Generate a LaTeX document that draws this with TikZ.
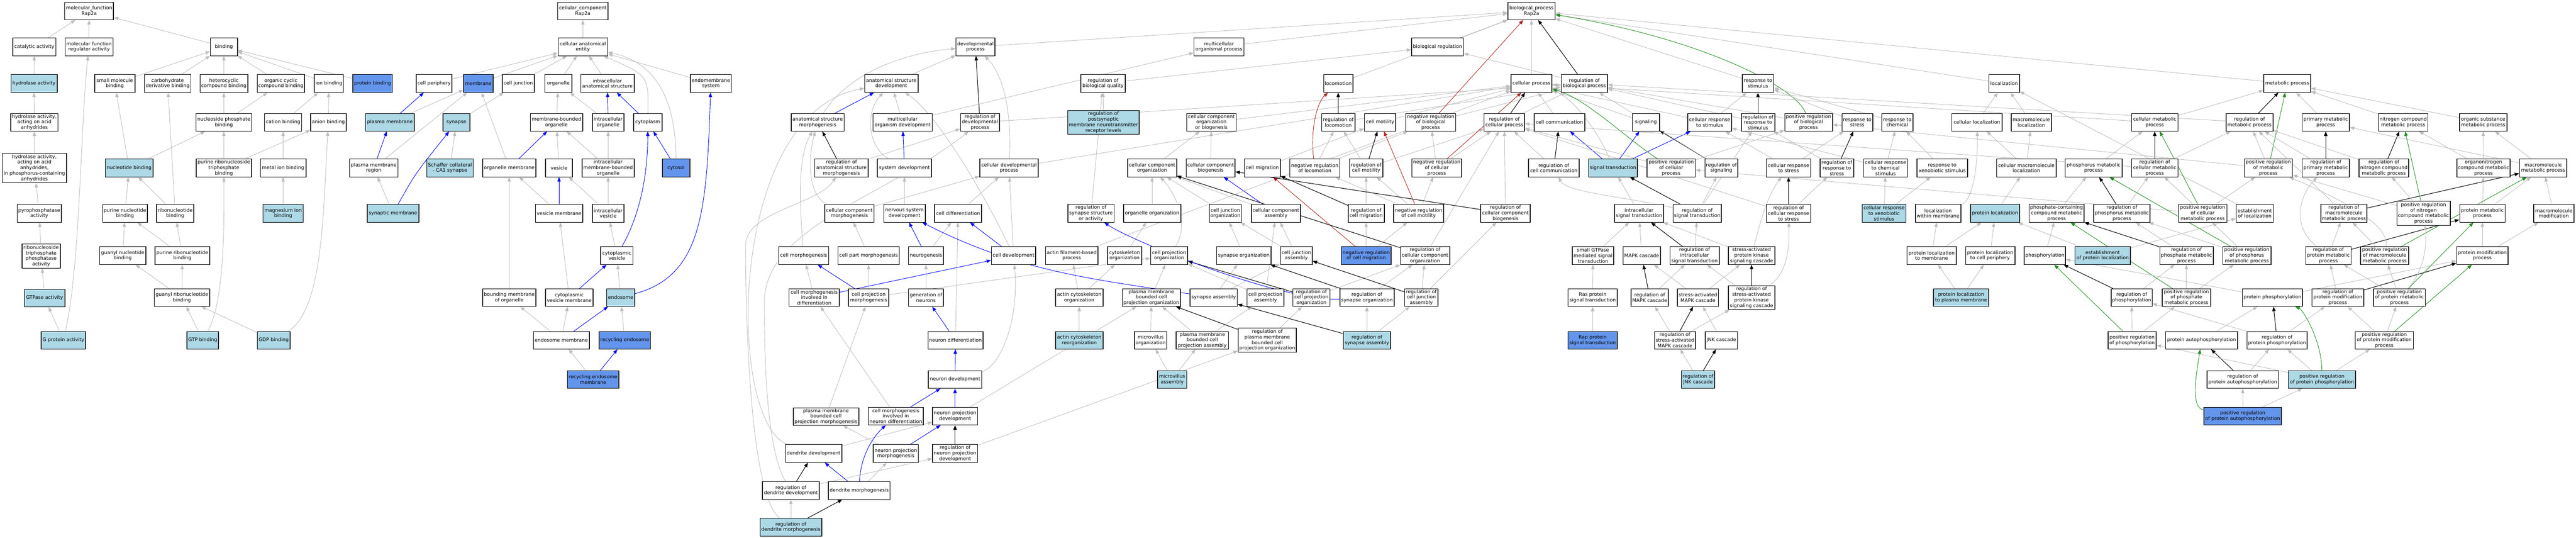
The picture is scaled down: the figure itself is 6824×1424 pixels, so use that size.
\documentclass[tikz,border=0pt]{standalone}
\usepackage{fontspec}
\setmainfont{DejaVu Sans}
\usetikzlibrary{arrows.meta,backgrounds}
\definecolor{lbcol}{HTML}{ADD8E6}
\definecolor{cfcol}{HTML}{6495ED}
\definecolor{egray}{HTML}{BEBEBE}
\definecolor{ered}{HTML}{B22222}
\definecolor{egreen}{HTML}{228B22}
\definecolor{sidecol}{HTML}{505050}
\newcommand\N[6]{\node[gonode,#5,minimum width=#4pt] (#1) at (#2,#3) {#6};}
\newcommand\E[3]{\draw[#1] (#2) -- (#3);}
\tikzset{
  gonode/.style={draw=black,line width=1pt,fill=white,rectangle,align=center,
    minimum height=47pt,inner xsep=3pt,inner ysep=1pt,
    font=\fontsize{12.8}{14.6}\selectfont,
    path picture={\draw[sidecol,line width=3pt]
      (path picture bounding box.north west) -- (path picture bounding box.south west)
      (path picture bounding box.north east) -- (path picture bounding box.south east);}},
  wt/.style={},
  lb/.style={fill=lbcol},
  cf/.style={fill=cfcol},
  hsixtyfour/.style={minimum height=64pt},
  hseventyeight/.style={minimum height=78pt},
  gr/.style={draw=egray,line width=1.2pt,-{Triangle[length=12pt,width=9pt]}},
  bl/.style={draw=blue,line width=1.2pt,-{Triangle[length=12pt,width=9pt]}},
  bk/.style={draw=black,line width=1.4pt,-{Triangle[length=12pt,width=9pt]}},
  rd/.style={draw=ered,line width=1.2pt,-{Triangle[length=12pt,width=9pt]}},
  gn/.style={draw=egreen,line width=1.2pt,-{Triangle[length=12pt,width=9pt]}},
}
\begin{document}
\begin{tikzpicture}[x=1pt,y=-1pt]
\useasboundingbox (0,0) rectangle (6824,1424);
% ---------------- molecular function
\N{mfr}{236}{29}{130}{wt}{molecular\_function\\Rap2a}
\N{cat}{91}{124}{115}{wt}{catalytic activity}
\N{mfreg}{236}{124}{128}{wt}{molecular function\\regulator activity}
\N{bind}{593}{124}{72}{wt}{binding}
\N{hyd}{90}{221}{123}{lb}{hydrolase activity}
\N{hydaa}{91}{324}{126}{wt}{hydrolase activity,\\acting on acid\\anhydrides}
\N{hydaap}{91}{445}{171}{hseventyeight}{hydrolase activity,\\acting on acid\\anhydrides,\\in phosphorus-containing\\anhydrides}
\N{pyro}{104}{565}{118}{wt}{pyrophosphatase\\activity}
\N{rntp}{109}{678}{102}{hsixtyfour}{ribonucleoside\\triphosphate\\phosphatase\\activity}
\N{gtpase}{118}{789}{108}{lb}{GTPase activity}
\N{gprot}{168}{901}{118}{lb}{G protein activity}
\N{smb}{304}{221}{107}{wt}{small molecule\\binding}
\N{cdb}{444}{221}{124}{wt}{carbohydrate\\derivative binding}
\N{hcb}{593}{221}{127}{wt}{heterocyclic\\compound binding}
\N{ocb}{744}{221}{126}{wt}{organic cyclic\\compound binding}
\N{ionb}{871}{221}{78}{wt}{ion binding}
\N{protb}{987}{221}{105}{cf}{protein binding}
\N{npb}{593}{324}{148}{wt}{nucleoside phosphate\\binding}
\N{catb}{750}{324}{99}{wt}{cation binding}
\N{anb}{870}{324}{95}{wt}{anion binding}
\N{nucb}{342}{445}{127}{lb}{nucleotide binding}
\N{prntpb}{593}{445}{147}{wt}{purine ribonucleoside\\triphosphate\\binding}
\N{metb}{750}{445}{121}{wt}{metal ion binding}
\N{pnb}{331}{565}{119}{wt}{purine nucleotide\\binding}
\N{rnb}{464}{565}{99}{wt}{ribonucleotide\\binding}
\N{mgb}{750}{565}{107}{lb}{magnesium ion\\binding}
\N{gnb}{325}{677}{123}{wt}{guanyl nucleotide\\binding}
\N{prnb}{483}{677}{145}{wt}{purine ribonucleotide\\binding}
\N{grnb}{482}{788}{147}{wt}{guanyl ribonucleotide\\binding}
\N{gtpb}{537}{901}{84}{lb}{GTP binding}
\N{gdpb}{725}{901}{87}{lb}{GDP binding}
% ---------------- cellular component
\N{ccr}{1544}{29}{134}{wt}{cellular\_component\\Rap2a}
\N{cae}{1544}{124}{132}{wt}{cellular anatomical\\entity}
\N{cper}{1150}{221}{95}{wt}{cell periphery}
\N{mem}{1267}{221}{78}{cf}{membrane}
\N{cjun}{1373}{221}{86}{wt}{cell junction}
\N{org}{1479}{221}{72}{wt}{organelle}
\N{ias}{1609}{221}{142}{wt}{intracellular\\anatomical structure}
\N{ems}{1883}{221}{109}{wt}{endomembrane\\system}
\N{pm}{1033}{324}{130}{lb}{plasma membrane}
\N{syn}{1209}{324}{72}{lb}{synapse}
\N{mbo}{1474}{324}{139}{wt}{membrane-bounded\\organelle}
\N{iorg}{1611}{324}{84}{wt}{intracellular\\organelle}
\N{cyto}{1716}{324}{76}{wt}{cytoplasm}
\N{pmr}{990}{445}{129}{wt}{plasma membrane\\region}
\N{schaf}{1192}{445}{124}{lb}{Schaffer collateral\\- CA1 synapse}
\N{orgm}{1349}{445}{142}{wt}{organelle membrane}
\N{ves}{1481}{445}{72}{wt}{vesicle}
\N{imbo}{1611}{445}{139}{wt}{intracellular\\membrane-bounded\\organelle}
\N{cytosol}{1791}{445}{73}{cf}{cytosol}
\N{synm}{1041}{565}{137}{lb}{synaptic membrane}
\N{vesm}{1481}{565}{126}{wt}{vesicle membrane}
\N{ives}{1611}{565}{84}{wt}{intracellular\\vesicle}
\N{cves}{1634}{677}{86}{wt}{cytoplasmic\\vesicle}
\N{bmo}{1349}{788}{142}{wt}{bounding membrane\\of organelle}
\N{cvm}{1508}{788}{126}{wt}{cytoplasmic\\vesicle membrane}
\N{endo}{1644}{788}{75}{lb}{endosome}
\N{endom}{1487}{901}{149}{wt}{endosome membrane}
\N{recend}{1655}{901}{137}{cf}{recycling endosome}
\N{recendm}{1571}{1005}{137}{cf}{recycling endosome\\membrane}
% ---------------- biological process
\N{bpr}{4057}{29}{126}{wt}{biological\_process\\Rap2a}
\N{devp}{2584}{124}{104}{wt}{developmental\\process}
\N{mop}{3229}{124}{133}{wt}{multicellular\\organismal process}
\N{breg}{3808}{124}{138}{wt}{biological regulation}
\N{asd}{2361}{221}{142}{wt}{anatomical structure\\development}
\N{rbq}{2922}{221}{119}{wt}{regulation of\\biological quality}
\N{loco}{3545}{221}{78}{wt}{locomotion}
\N{cellp}{4057}{221}{109}{wt}{cellular process}
\N{rbp}{4197}{221}{123}{wt}{regulation of\\biological process}
\N{rstim}{4657}{221}{83}{wt}{response to\\stimulus}
\N{loc}{5309}{221}{82}{wt}{localization}
\N{metp}{6059}{221}{125}{wt}{metabolic process}
% row 4
\N{asm}{2166}{324}{141}{wt}{anatomical structure\\morphogenesis}
\N{mod}{2391}{324}{158}{wt}{multicellular\\organism development}
\N{rdp}{2596}{324}{104}{wt}{regulation of\\developmental\\process}
\N{rpmnrl}{2923}{324}{190}{lb,hsixtyfour}{regulation of\\postsynaptic\\membrane neurotransmitter\\receptor levels}
\N{ccob}{3209}{324}{132}{wt}{cellular component\\organization\\or biogenesis}
\N{rloco}{3545}{324}{89}{wt}{regulation of\\locomotion}
\N{cmot}{3656}{324}{84}{wt}{cell motility}
\N{nrbp}{3790}{324}{133}{wt}{negative regulation\\of biological\\process}
\N{rcp}{3985}{324}{108}{wt}{regulation of\\cellular process}
\N{ccom}{4131}{324}{134}{wt}{cell communication}
\N{sig}{4360}{324}{72}{wt}{signaling}
\N{crstim}{4529}{324}{117}{wt}{cellular response\\to stimulus}
\N{rrstim}{4657}{324}{89}{wt}{regulation of\\response to\\stimulus}
\N{prbp}{4791}{324}{127}{wt}{positive regulation\\of biological\\process}
\N{rstress}{4920}{324}{82}{wt}{response to\\stress}
\N{rchem}{5026}{324}{83}{wt}{response to\\chemical}
\N{cloc}{5237}{324}{134}{wt}{cellular localization}
\N{mloc}{5381}{324}{107}{wt}{macromolecule\\localization}
\N{cmp}{5708}{324}{124}{wt}{cellular metabolic\\process}
\N{rmp}{5959}{324}{125}{wt}{regulation of\\metabolic process}
\N{pmp}{6161}{324}{126}{wt}{primary metabolic\\process}
\N{ncmp}{6366}{324}{132}{wt}{nitrogen compound\\metabolic process}
\N{osmp}{6578}{324}{126}{wt}{organic substance\\metabolic process}
% row 5
\N{rasm}{2229}{445}{142}{wt}{regulation of\\anatomical structure\\morphogenesis}
\N{sysd}{2396}{445}{144}{wt}{system development}
\N{cdp}{2673}{445}{155}{wt}{cellular developmental\\process}
\N{cco}{3052}{445}{130}{wt}{cellular component\\organization}
\N{ccb}{3207}{445}{130}{wt}{cellular component\\biogenesis}
\N{cmig}{3344}{445}{96}{wt}{cell migration}
\N{nrloco}{3483}{445}{133}{wt}{negative regulation\\of locomotion}
\N{rcmot}{3619}{445}{89}{wt}{regulation of\\cell motility}
\N{nrcp}{3806}{445}{133}{wt}{negative regulation\\of cellular\\process}
\N{rcc}{4116}{445}{134}{wt}{regulation of\\cell communication}
\N{st}{4273}{445}{130}{lb}{signal transduction}
\N{prcp}{4427}{445}{128}{wt}{positive regulation\\of cellular\\process}
\N{rsig}{4560}{445}{88}{wt}{regulation of\\signaling}
\N{crstress}{4738}{445}{118}{wt}{cellular response\\to stress}
\N{rrstress}{4866}{445}{89}{wt}{regulation of\\response to\\stress}
\N{crchem}{4995}{445}{117}{wt}{cellular response\\to chemical\\stimulus}
\N{rxs}{5145}{445}{134}{wt}{response to\\xenobiotic stimulus}
\N{cmloc}{5368}{445}{158}{wt}{cellular macromolecule\\localization}
\N{phmp}{5546}{445}{151}{wt}{phosphorus metabolic\\process}
\N{rcmp}{5708}{445}{124}{wt}{regulation of\\cellular metabolic\\process}
\N{prmp}{6009}{445}{128}{wt}{positive regulation\\of metabolic\\process}
\N{rpmp}{6161}{445}{126}{wt}{regulation of\\primary metabolic\\process}
\N{rncmp}{6315}{445}{132}{wt}{regulation of\\nitrogen compound\\metabolic process}
\N{oncmp}{6579}{445}{142}{wt}{organonitrogen\\compound metabolic\\process}
\N{mmp}{6737}{445}{126}{wt}{macromolecule\\metabolic process}
% row 6
\N{ccm}{2250}{565}{131}{wt}{cellular component\\morphogenesis}
\N{nsd}{2396}{565}{110}{wt}{nervous system\\development}
\N{cdiff}{2538}{565}{125}{wt}{cell differentiation}
\N{rssa}{2890}{565}{123}{wt}{regulation of\\synapse structure\\or activity}
\N{oorg}{3052}{565}{152}{wt}{organelle organization}
\N{cjo}{3246}{565}{84}{wt}{cell junction\\organization}
\N{cca}{3380}{565}{131}{wt}{cellular component\\assembly}
\N{rcmig}{3619}{565}{96}{wt}{regulation of\\cell migration}
\N{nrcmot}{3758}{565}{133}{wt}{negative regulation\\of cell motility}
\N{rccb}{3988}{565}{132}{wt}{regulation of\\cellular component\\biogenesis}
\N{ist}{4342}{565}{131}{wt}{intracellular\\signal transduction}
\N{rst}{4496}{565}{128}{wt}{regulation of\\signal transduction}
\N{rcrs}{4738}{565}{118}{wt}{regulation of\\cellular response\\to stress}
\N{crxs}{4991}{565}{117}{lb}{cellular response\\to xenobiotic\\stimulus}
\N{lwm}{5134}{565}{121}{wt}{localization\\within membrane}
\N{ploc}{5285}{565}{131}{lb}{protein localization}
\N{pccmp}{5448}{565}{146}{wt}{phosphate-containing\\compound metabolic\\process}
\N{rphmp}{5621}{565}{150}{wt}{regulation of\\phosphorus metabolic\\process}
\N{prcmp}{5835}{565}{129}{wt}{positive regulation\\of cellular\\metabolic process}
\N{eloc}{5973}{565}{99}{wt}{establishment\\of localization}
\N{rmmp}{6209}{565}{122}{wt}{regulation of\\macromolecule\\metabolic process}
\N{prncmp}{6420}{565}{142}{hsixtyfour}{positive regulation\\of nitrogen\\compound metabolic\\process}
\N{prmetp}{6576}{565}{121}{wt}{protein metabolic\\process}
\N{mmod}{6765}{565}{107}{wt}{macromolecule\\modification}
% row 7
\N{cmorph}{2129}{677}{133}{wt}{cell morphogenesis}
\N{cpm}{2301}{677}{163}{wt}{cell part morphogenesis}
\N{neurog}{2453}{677}{93}{wt}{neurogenesis}
\N{cdev}{2685}{677}{118}{wt}{cell development}
\N{afbp}{2839}{677}{140}{wt}{actin filament-based\\process}
\N{csko}{2979}{677}{91}{wt}{cytoskeleton\\organization}
\N{cpo}{3097}{677}{99}{wt}{cell projection\\organization}
\N{syno}{3295}{677}{145}{wt}{synapse organization}
\N{cja}{3434}{677}{85}{wt}{cell junction\\assembly}
\N{nrcmig}{3619}{677}{133}{cf}{negative regulation\\of cell migration}
\N{rcco}{3775}{677}{131}{wt}{regulation of\\cellular component\\organization}
\N{sgtp}{4220}{677}{110}{wt}{small GTPase\\mediated signal\\transduction}
\N{mapk}{4349}{677}{100}{wt}{MAPK cascade}
\N{rist}{4489}{677}{131}{wt}{regulation of\\intracellular\\signal transduction}
\N{sapk}{4640}{677}{123}{wt}{stress-activated\\protein kinase\\signaling cascade}
\N{plm}{5117}{677}{131}{wt}{protein localization\\to membrane}
\N{plcp}{5272}{677}{131}{wt}{protein localization\\to cell periphery}
\N{phos}{5417}{677}{110}{wt}{phosphorylation}
\N{eploc}{5570}{677}{148}{lb}{establishment\\of protein localization}
\N{rphamp}{5792}{677}{142}{wt}{regulation of\\phosphate metabolic\\process}
\N{prphmp}{5952}{677}{128}{wt}{positive regulation\\of phosphorus\\metabolic process}
\N{rprmp}{6168}{677}{121}{wt}{regulation of\\protein metabolic\\process}
\N{prmmp}{6317}{677}{128}{wt}{positive regulation\\of macromolecule\\metabolic process}
\N{pmodp}{6576}{677}{137}{wt}{protein modification\\process}
% row 8
\N{cmid}{2157}{788}{134}{wt}{cell morphogenesis\\involved in\\differentiation}
\N{cprojm}{2301}{788}{107}{wt}{cell projection\\morphogenesis}
\N{gen}{2453}{788}{93}{wt}{generation of\\neurons}
\N{aco}{2859}{788}{126}{wt}{actin cytoskeleton\\organization}
\N{pmbcpo}{3050}{788}{155}{wt}{plasma membrane\\bounded cell\\projection organization}
\N{syna}{3215}{788}{126}{wt}{synapse assembly}
\N{cpa}{3352}{788}{98}{wt}{cell projection\\assembly}
\N{rcpo}{3474}{788}{99}{wt}{regulation of\\cell projection\\organization}
\N{rso}{3621}{788}{144}{wt}{regulation of\\synapse organization}
\N{rcja}{3765}{788}{89}{wt}{regulation of\\cell junction\\assembly}
\N{ras}{4219}{788}{131}{wt}{Ras protein\\signal transduction}
\N{rmapk}{4370}{788}{99}{wt}{regulation of\\MAPK cascade}
\N{samapk}{4498}{788}{109}{wt}{stress-activated\\MAPK cascade}
\N{rsapk}{4640}{788}{123}{hsixtyfour}{regulation of\\stress-activated\\protein kinase\\signaling cascade}
\N{plpm}{5195}{788}{147}{lb}{protein localization\\to plasma membrane}
\N{rphos}{5647}{788}{107}{wt}{regulation of\\phosphorylation}
\N{prphamp}{5792}{788}{129}{wt}{positive regulation\\of phosphate\\metabolic process}
\N{pphos}{6020}{788}{160}{wt}{protein phosphorylation}
\N{rpmodp}{6193}{788}{138}{wt}{regulation of\\protein modification\\process}
\N{prprmp}{6356}{788}{138}{wt}{positive regulation\\of protein metabolic\\process}
% row 9
\N{nd}{2531}{901}{146}{wt}{neuron differentiation}
\N{acr}{2859}{901}{126}{lb}{actin cytoskeleton\\reorganization}
\N{mvo}{3048}{901}{86}{wt}{microvillus\\organization}
\N{pmbcpa}{3185}{901}{139}{wt}{plasma membrane\\bounded cell\\projection assembly}
\N{rpmbcpo}{3357}{901}{155}{hsixtyfour}{regulation of\\plasma membrane\\bounded cell\\projection organization}
\N{rsa}{3621}{901}{126}{lb}{regulation of\\synapse assembly}
\N{rap}{4219}{901}{131}{cf}{Rap protein\\signal transduction}
\N{rsamapk}{4437}{901}{109}{wt}{regulation of\\stress-activated\\MAPK cascade}
\N{jnk}{4560}{901}{86}{wt}{JNK cascade}
\N{prphos}{5648}{901}{128}{wt}{positive regulation\\of phosphorylation}
\N{pap}{5832}{901}{191}{wt}{protein autophosphorylation}
\N{rpphos}{6032}{901}{160}{wt}{regulation of\\protein phosphorylation}
\N{prpmodp}{6316}{901}{155}{wt}{positive regulation\\of protein modification\\process}
% row 10
\N{ndev}{2530}{1005}{142}{wt}{neuron development}
\N{mva}{3105}{1005}{78}{lb}{microvillus\\assembly}
\N{rjnk}{4498}{1005}{89}{lb}{regulation of\\JNK cascade}
\N{rpap}{5941}{1005}{190}{wt}{regulation of\\protein autophosphorylation}
\N{prpphos}{6151}{1005}{179}{lb}{positive regulation\\of protein phosphorylation}
% row 11
\N{pmbcpm}{2188}{1103}{174}{wt}{plasma membrane\\bounded cell\\projection morphogenesis}
\N{cmind}{2373}{1102}{147}{wt}{cell morphogenesis\\involved in\\neuron differentiation}
\N{npd}{2530}{1102}{120}{wt}{neuron projection\\development}
\N{prpap}{5941}{1102}{206}{cf}{positive regulation\\of protein autophosphorylation}
% row 12-14
\N{dd}{2155}{1201}{150}{wt}{dendrite development}
\N{npm}{2373}{1201}{120}{wt}{neuron projection\\morphogenesis}
\N{rnpd}{2530}{1201}{120}{wt}{regulation of\\neuron projection\\development}
\N{rdd}{2095}{1299}{151}{wt}{regulation of\\dendrite development}
\N{dm}{2276}{1299}{164}{wt}{dendrite morphogenesis}
\N{rdm}{2095}{1396}{164}{lb}{regulation of\\dendrite morphogenesis}

\begin{scope}[on background layer]
\fill[white] (0,0) rectangle (6824,1424);
% MF edges
\E{gr}{cat}{mfr}\E{gr}{mfreg}{mfr}\E{gr}{bind}{mfr}\E{gr}{hyd}{cat}\E{gr}{hydaa}{hyd}
\E{gr}{hydaap}{hydaa}\E{gr}{pyro}{hydaap}\E{gr}{rntp}{pyro}\E{gr}{gtpase}{rntp}\E{gr}{gprot}{gtpase}
\draw[gr] (gprot) .. controls (213,700) and (213,330) .. (mfreg);
\E{gr}{smb}{bind}\E{gr}{cdb}{bind}\E{gr}{hcb}{bind}\E{gr}{ocb}{bind}\E{gr}{ionb}{bind}\E{gr}{protb}{bind}
\E{gr}{npb}{hcb}\E{gr}{npb}{ocb}\E{gr}{nucb}{smb}\E{gr}{nucb}{npb}\E{gr}{prntpb}{npb}\E{gr}{prntpb}{anb}
\E{gr}{catb}{ionb}\E{gr}{anb}{ionb}\E{gr}{metb}{catb}\E{gr}{mgb}{metb}
\E{gr}{pnb}{nucb}\E{gr}{rnb}{nucb}\E{gr}{rnb}{cdb}\E{gr}{gnb}{pnb}\E{gr}{prnb}{pnb}\E{gr}{prnb}{rnb}
\E{gr}{grnb}{gnb}\E{gr}{grnb}{prnb}\E{gr}{gtpb}{grnb}\E{gr}{gdpb}{grnb}
\draw[gr] (gtpb) .. controls (594,800) and (594,600) .. (prntpb);
\draw[gr] (gdpb) .. controls (856,820) and (856,560) .. (anb);
% CC edges
\E{gr}{cae}{ccr}\E{gr}{cper}{cae}\E{gr}{mem}{cae}\E{gr}{cjun}{cae}\E{gr}{org}{cae}\E{gr}{ias}{cae}
\draw[gr] (cyto) .. controls (1718,200) .. (cae);
\draw[gr] (cytosol) .. controls (1790,300) and (1760,170) .. (cae);
\E{gr}{ems}{cae}\E{gr}{pm}{mem}\E{gr}{pmr}{mem}\E{gr}{synm}{pmr}\E{gr}{syn}{cjun}\E{gr}{schaf}{syn}
\E{gr}{mbo}{org}\E{gr}{iorg}{org}\E{gr}{orgm}{mem}\E{gr}{ves}{mbo}\E{gr}{imbo}{mbo}\E{gr}{imbo}{iorg}
\E{gr}{vesm}{orgm}\E{gr}{ives}{ves}\E{gr}{ives}{imbo}\E{gr}{cves}{ives}\E{gr}{bmo}{orgm}\E{gr}{cvm}{vesm}
\E{gr}{endo}{cves}\E{gr}{endom}{bmo}\E{gr}{endom}{cvm}\E{gr}{recend}{endo}\E{gr}{recendm}{endom}
\E{bl}{pm}{cper}\E{bl}{pmr}{pm}\E{bl}{iorg}{ias}\E{bl}{cyto}{ias}\E{bl}{cytosol}{cyto}
\draw[bl] (synm) .. controls (1100,460) .. (syn);
\E{bl}{orgm}{mbo}\E{bl}{vesm}{ves}\E{bl}{cvm}{cves}\E{bl}{endom}{endo}\E{bl}{recendm}{recend}
\draw[bl] (cves) .. controls (1700,560) and (1716,450) .. (cyto);
\draw[bl] (endo) .. controls (1860,730) and (1872,560) .. (ems);
% BP edges: development
\E{gr}{devp}{bpr}\E{gr}{mop}{bpr}\E{gr}{breg}{bpr}\E{gr}{loco}{bpr}\E{gr}{cellp}{bpr}
\E{gr}{rstim}{bpr}\E{gr}{loc}{bpr}\E{gr}{metp}{bpr}
\E{gr}{asd}{devp}\E{gr}{mod}{asd}\E{gr}{mod}{mop}\E{bk}{rdp}{devp}\E{gr}{rdp}{rbp}
\draw[gr] (asm) .. controls (2250,190) and (2400,140) .. (devp);
\E{bl}{asm}{asd}\E{bk}{rasm}{asm}\E{gr}{rasm}{rdp}
\E{bl}{sysd}{mod}\draw[gr] (sysd) .. controls (2300,390) and (2290,300) .. (asd);
\draw[gr] (cdp) .. controls (2680,300) and (2660,200) .. (devp);
\E{gr}{cdp}{cellp}\E{gr}{nsd}{sysd}\E{gr}{cdiff}{cdp}
\draw[gr] (ccm) .. controls (2140,520) and (2140,420) .. (asm);
\E{gr}{ccm}{cdp}
\E{bl}{neurog}{nsd}\E{gr}{neurog}{cdiff}\E{bl}{cdev}{cdiff}\E{gr}{cdev}{cdp}
\draw[gr] (cdev) .. controls (2600,500) and (2480,300) .. (asd);
\draw[gr] (cmorph) .. controls (2120,560) and (2110,420) .. (asm);
\E{gr}{cpm}{ccm}\E{gr}{gen}{neurog}\E{bl}{nd}{gen}\E{gr}{nd}{cdiff}
\E{bl}{ndev}{nd}\draw[gr] (ndev) .. controls (2650,970) and (2700,850) .. (cdev);
\E{gr}{cmid}{cmorph}\E{bl}{cmid}{cdev}\E{bl}{cprojm}{cmorph}\E{gr}{cprojm}{cpm}\E{gr}{cprojm}{cpo}
\E{bl}{cmind}{ndev}\E{gr}{cmind}{cmid}\E{bl}{npd}{ndev}\E{gr}{npd}{pmbcpo}
\E{gr}{pmbcpm}{cprojm}\E{bl}{npm}{npd}\E{gr}{npm}{pmbcpm}\E{bk}{rnpd}{npd}\E{gr}{rnpd}{rpmbcpo}
\E{gr}{dd}{npd}
\draw[gr] (dd) .. controls (1924,1120) and (1924,300) .. (asd);
\E{bk}{rdd}{dd}\E{gr}{rdd}{rnpd}
\draw[gr] (rdd) .. controls (2025,1180) and (2025,900) .. (2025,800) .. controls (2025,600) and (2350,520) .. (rdp);
\E{bl}{dm}{dd}\E{gr}{dm}{npm}
\draw[bl] (dm) .. controls (2280,1200) and (2320,1150) .. (cmind);
\E{gr}{rdm}{rdd}\E{bk}{rdm}{dm}
\draw[gr] (rdm) .. controls (1975,1300) and (1975,700) .. (1975,650) .. controls (1975,560) and (2170,540) .. (rasm);
% organization
\E{gr}{rbq}{breg}\E{gr}{rpmnrl}{rbq}\E{gr}{rssa}{rbq}
\E{gr}{ccob}{cellp}\E{gr}{cco}{ccob}\E{gr}{ccb}{ccob}\E{gr}{oorg}{cco}\E{gr}{cjo}{cco}
\draw[gr] (cpo) .. controls (3150,600) and (3120,520) .. (cco);
\E{bl}{cca}{ccb}\E{gr}{cca}{cco}\E{gr}{csko}{oorg}\E{gr}{syno}{cjo}\E{gr}{cja}{cjo}\E{gr}{cja}{cca}
\E{gr}{afbp}{cellp}\E{gr}{aco}{afbp}\E{gr}{aco}{csko}\E{gr}{acr}{aco}\E{gr}{pmbcpo}{cpo}
\E{gr}{syna}{syno}\E{gr}{syna}{cja}
\draw[bl] (syna) .. controls (2900,740) and (2700,720) .. (nsd);
\E{gr}{cpa}{cpo}\E{gr}{cpa}{cca}\E{gr}{mvo}{pmbcpo}\E{gr}{pmbcpa}{pmbcpo}\E{gr}{pmbcpa}{cpa}
\E{bk}{rpmbcpo}{pmbcpo}\E{gr}{rpmbcpo}{rcpo}\E{gr}{mva}{mvo}\E{gr}{mva}{pmbcpa}
% motility
\E{gr}{cmig}{cmot}\E{bk}{rloco}{loco}\E{gr}{rloco}{rbp}
\draw[rd] (nrloco) .. controls (3470,340) and (3490,270) .. (loco);
\E{gr}{nrloco}{rloco}\E{gr}{nrloco}{nrbp}
\E{bk}{rcmot}{cmot}\E{gr}{rcmot}{rloco}\E{gr}{rcmot}{rcp}
\E{rd}{nrcmot}{cmot}\E{gr}{nrcmot}{rcmot}\E{gr}{nrcmot}{nrcp}\E{gr}{nrcmot}{nrloco}
\E{gr}{rcmig}{rcmot}\E{bk}{rcmig}{cmig}\E{gr}{nrcmig}{rcmig}\E{gr}{nrcmig}{nrcmot}\E{rd}{nrcmig}{cmig}
\E{gr}{cmot}{cellp}\E{rd}{nrbp}{bpr}\E{gr}{nrbp}{rbp}
\E{gr}{nrcp}{nrbp}\E{gr}{nrcp}{rcp}\E{rd}{nrcp}{cellp}\E{bk}{rcp}{cellp}\E{gr}{rcp}{rbp}
\E{gr}{rccb}{rcp}\E{bk}{rccb}{ccb}\E{gr}{rcco}{rcp}\E{bk}{rcco}{cco}
\E{gr}{rcpo}{rcco}\E{bk}{rcpo}{cpo}
\E{gr}{rso}{rcco}\E{bk}{rso}{syno}
\draw[bl] (rso) .. controls (3400,800) and (3000,640) .. (rssa);
\E{gr}{rcja}{rcco}\E{gr}{rcja}{rccb}\E{bk}{rcja}{cja}
\E{gr}{rsa}{rso}\E{gr}{rsa}{rcja}\E{bk}{rsa}{syna}
% signaling
\E{gr}{rbp}{breg}\E{bk}{rbp}{bpr}\E{gr}{ccom}{cellp}\E{gr}{sig}{cellp}
\E{gr}{crstim}{rstim}\E{gr}{crstim}{cellp}\E{bk}{rcc}{ccom}\E{gr}{rcc}{rcp}
\E{bl}{st}{ccom}\E{bl}{st}{sig}\E{bl}{st}{crstim}
\draw[gr] (st) .. controls (4240,360) and (4170,260) .. (cellp);
\draw[gn] (prcp) .. controls (4300,360) and (4200,260) .. (cellp);
\E{gr}{prcp}{rcp}\E{gr}{prcp}{prbp}
\E{bk}{rsig}{sig}\E{gr}{rsig}{rbp}\E{gr}{ist}{st}\E{bk}{rst}{st}\E{gr}{rst}{rsig}
\draw[gr] (rst) .. controls (4300,520) and (4150,510) .. (rcc);
\E{gr}{rst}{rrstim}
\E{gr}{sgtp}{ist}\E{gr}{mapk}{ist}\E{bk}{rist}{ist}\E{gr}{rist}{rst}\E{gr}{ras}{sgtp}
\E{bk}{rmapk}{mapk}\E{gr}{rmapk}{rist}\E{gr}{samapk}{mapk}\E{gr}{samapk}{sapk}\E{gr}{rap}{ras}
\E{bk}{rsamapk}{samapk}\E{gr}{rsamapk}{rmapk}\E{gr}{rsamapk}{rsapk}\E{gr}{jnk}{samapk}
\E{bk}{rjnk}{jnk}\E{gr}{rjnk}{rsamapk}
% response
\E{bk}{rrstim}{rstim}\E{gr}{rrstim}{rbp}
\draw[gn] (prbp) .. controls (4760,230) and (4500,100) .. (bpr);
\E{gr}{prbp}{rbp}
\E{gr}{rstress}{rstim}\E{gr}{rchem}{rstim}\E{gr}{crstress}{rstress}\E{gr}{crstress}{crstim}
\E{bk}{rrstress}{rstress}\E{gr}{rrstress}{rrstim}\E{gr}{crchem}{rchem}\E{gr}{crchem}{crstim}
\E{gr}{rxs}{rchem}\E{bk}{rcrs}{crstress}\E{gr}{rcrs}{rrstress}\E{gr}{rcrs}{rcp}
\E{gr}{crxs}{crchem}\E{gr}{crxs}{rxs}\E{gr}{sapk}{ist}
\draw[gr] (sapk) .. controls (4660,600) and (4680,520) .. (crstress);
\E{bk}{rsapk}{sapk}\E{gr}{rsapk}{rist}
\draw[gr] (rsapk) .. controls (4740,720) and (4740,640) .. (rcrs);
% localization
\E{gr}{cloc}{loc}\E{gr}{mloc}{loc}
\draw[gr] (lwm) .. controls (5230,530) and (5240,420) .. (cloc);
\E{gr}{cmloc}{cloc}\E{gr}{cmloc}{mloc}\E{gr}{ploc}{cmloc}\E{gr}{plm}{lwm}\E{gr}{plm}{ploc}
\E{gr}{plcp}{ploc}\E{gr}{plpm}{plm}\E{gr}{plpm}{plcp}\E{gr}{eploc}{ploc}\E{gr}{eploc}{eloc}\E{gr}{eloc}{loc}
% metabolism
\E{gr}{cmp}{metp}\E{gr}{cmp}{cellp}\E{bk}{rmp}{metp}\E{gr}{rmp}{rbp}
\E{gr}{pmp}{metp}\E{gr}{ncmp}{metp}\E{gr}{osmp}{metp}\E{gr}{phmp}{cmp}
\E{bk}{rcmp}{cmp}\E{gr}{rcmp}{rmp}\E{gr}{rcmp}{rcp}
\E{gn}{prmp}{metp}\E{gr}{prmp}{rmp}\E{gr}{prmp}{prbp}
\E{bk}{rpmp}{pmp}\E{gr}{rpmp}{rmp}\E{bk}{rncmp}{ncmp}\E{gr}{rncmp}{rmp}
\E{gr}{oncmp}{ncmp}\E{gr}{oncmp}{osmp}\E{gr}{mmp}{osmp}\E{gr}{mmp}{pmp}
\E{gr}{pccmp}{phmp}\E{bk}{rphmp}{phmp}\E{gr}{rphmp}{rcmp}
\draw[gn] (prcmp) .. controls (5800,500) and (5760,420) .. (cmp);
\E{gr}{prcmp}{rcmp}\E{gr}{prcmp}{prmp}\E{gr}{prcmp}{prcp}
\E{bk}{rmmp}{mmp}\E{gr}{rmmp}{rmp}
\E{gn}{prncmp}{ncmp}\E{gr}{prncmp}{rncmp}\E{gr}{prncmp}{prmp}
\E{gr}{prmetp}{oncmp}\E{gr}{prmetp}{mmp}\E{gr}{mmod}{mmp}\E{gr}{phos}{pccmp}
\E{bk}{rphamp}{pccmp}\E{gr}{rphamp}{rphmp}
\E{gn}{prphmp}{phmp}\E{gr}{prphmp}{rphmp}\E{gr}{prphmp}{prcmp}
\E{bk}{rprmp}{prmetp}\E{gr}{rprmp}{rmmp}
\draw[gr] (rprmp) .. controls (6070,600) and (6090,520) .. (rpmp);
\E{gn}{prmmp}{mmp}\E{gr}{prmmp}{rmmp}
\draw[gr] (prmmp) .. controls (6330,600) and (6230,540) .. (prmp);
\E{gr}{pmodp}{prmetp}\E{gr}{pmodp}{mmod}
\E{bk}{rphos}{phos}\E{gr}{rphos}{rphamp}
\E{gn}{prphamp}{pccmp}\E{gr}{prphamp}{rphamp}\E{gr}{prphamp}{prphmp}
\E{gr}{pphos}{phos}\E{gr}{pphos}{pmodp}\E{bk}{rpmodp}{pmodp}\E{gr}{rpmodp}{rprmp}
\E{gn}{prprmp}{prmetp}\E{gr}{prprmp}{rprmp}\E{gr}{prprmp}{prmmp}
\draw[gr] (prprmp) .. controls (6420,720) and (6430,650) .. (prncmp);
\E{gn}{prphos}{phos}\E{gr}{prphos}{rphos}\E{gr}{prphos}{prphamp}
\E{gr}{pap}{pphos}\E{bk}{rpphos}{pphos}\E{gr}{rpphos}{rphos}\E{gr}{rpphos}{rpmodp}
\E{gn}{prpmodp}{pmodp}\E{gr}{prpmodp}{rpmodp}\E{gr}{prpmodp}{prprmp}
\E{bk}{rpap}{pap}\E{gr}{rpap}{rpphos}
\draw[gn] (prpphos) .. controls (6150,900) and (6100,820) .. (pphos);
\E{gr}{prpphos}{rpphos}\E{gr}{prpphos}{prphos}\E{gr}{prpphos}{prpmodp}
\draw[gn] (prpap) .. controls (5800,1080) and (5820,980) .. (pap);
\E{gr}{prpap}{rpap}\E{gr}{prpap}{prpphos}
\end{scope}
\end{tikzpicture}
\end{document}
